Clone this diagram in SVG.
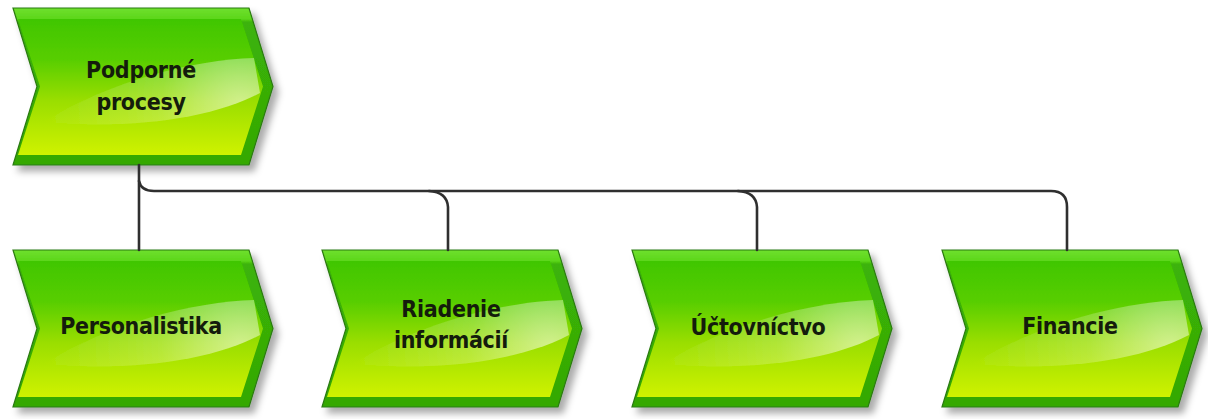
<svg xmlns="http://www.w3.org/2000/svg" width="1208" height="419" viewBox="0 0 1208 419">
  <defs>
    <!-- bevel: light band along the top, darker green on the right and bottom -->
    <linearGradient id="bevel" x1="0" y1="0" x2="0" y2="1">
      <stop offset="0" stop-color="#6fe02e"/>
      <stop offset="0.07" stop-color="#5cd61a"/>
      <stop offset="0.09" stop-color="#3cb308"/>
      <stop offset="1" stop-color="#34a804"/>
    </linearGradient>
    <!-- face: saturated green at the top fading to yellow-green -->
    <linearGradient id="face" x1="0" y1="0" x2="0" y2="1">
      <stop offset="0" stop-color="#40c600"/>
      <stop offset="0.3" stop-color="#58ce00"/>
      <stop offset="0.6" stop-color="#9ade00"/>
      <stop offset="1" stop-color="#cff200"/>
    </linearGradient>
    <radialGradient id="gloss" gradientUnits="userSpaceOnUse" cx="228" cy="96" r="200">
      <stop offset="0" stop-color="#ffffff" stop-opacity="0.55"/>
      <stop offset="0.4" stop-color="#ffffff" stop-opacity="0.22"/>
      <stop offset="1" stop-color="#ffffff" stop-opacity="0"/>
    </radialGradient>
    <filter id="shadow" x="-10%" y="-10%" width="125%" height="130%">
      <feDropShadow dx="5" dy="6" stdDeviation="3.5" flood-color="#000" flood-opacity="0.33"/>
    </filter>
    <!-- process step chevron, 260 x 157 -->
    <g id="chevron">
      <path d="M0,0 H236 L260,78.5 L236,157 H0 L24,78.5 Z" fill="url(#bevel)" stroke="#2b7a12" stroke-width="1.2"/>
      <path d="M5,11 H228 L250,78.5 L228,147 H5 L27,78.5 Z" fill="url(#face)"/>
      <path d="M30,114 C120,122 200,110 247,85 L241,50 C180,52 100,72 30,114 Z" fill="url(#gloss)"/>
    </g>
  </defs>
  <style>
    .label { font-family: "DejaVu Sans Condensed", "DejaVu Sans", sans-serif; font-stretch: condensed; font-weight: bold; font-size: 23px; letter-spacing: -0.3px; fill: #141c0c; text-anchor: middle; }
    .link { fill: none; stroke: #2f2f2f; stroke-width: 2.6; stroke-linecap: round; }
  </style>

  <g id="node-podporne-procesy" transform="translate(13,8)">
    <use href="#chevron" filter="url(#shadow)"/>
    <text class="label" x="128" y="70">Podporné</text>
    <text class="label" x="128" y="102">procesy</text>
  </g>

  <g id="node-personalistika" transform="translate(13,250)">
    <use href="#chevron" filter="url(#shadow)"/>
    <text class="label" x="128" y="84">Personalistika</text>
  </g>

  <g id="node-riadenie-informacii" transform="translate(322,250)">
    <use href="#chevron" filter="url(#shadow)"/>
    <text class="label" x="129" y="67">Riadenie</text>
    <text class="label" x="129" y="98">informácií</text>
  </g>

  <g id="node-uctovnictvo" transform="translate(632,250)">
    <use href="#chevron" filter="url(#shadow)"/>
    <text class="label" x="126" y="85">Účtovníctvo</text>
  </g>

  <g id="node-financie" transform="translate(942,250)">
    <use href="#chevron" filter="url(#shadow)"/>
    <text class="label" x="128" y="84">Financie</text>
  </g>

  <g id="connectors">
    <path class="link" d="M139,165 V250"/>
    <path class="link" d="M139,181 Q141,191 154,191 H1051 Q1067,191 1067,207 V250"/>
    <path class="link" d="M429,191 Q447,192 448,207 V250"/>
    <path class="link" d="M738,191 Q756,192 757,207 V250"/>
  </g>
</svg>
